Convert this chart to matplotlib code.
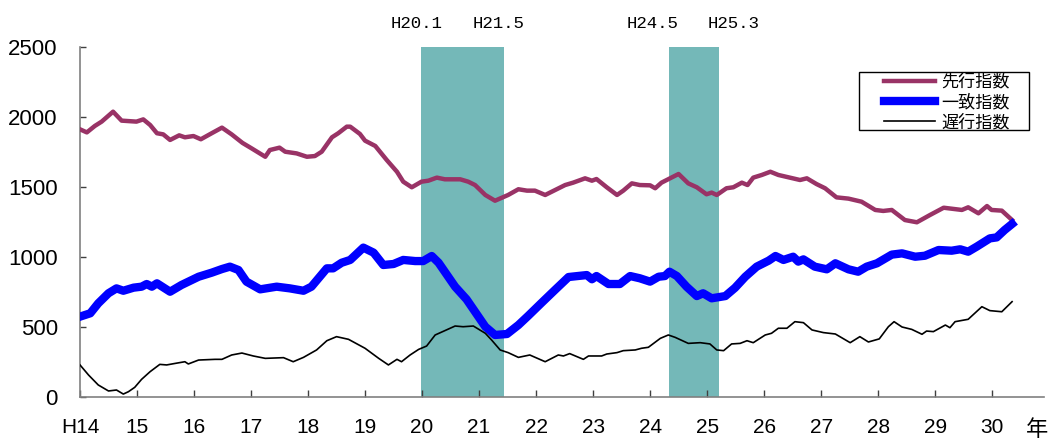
import matplotlib
matplotlib.use('Agg')
import matplotlib.pyplot as plt
from matplotlib.patches import Rectangle

# leading / coincident / lagging indices (x = fiscal year, H14 = 14)
lead_x = [14.0, 14.12, 14.26, 14.38, 14.58, 14.73, 14.99, 15.11, 15.23, 15.35, 15.46, 15.58, 15.74, 15.84, 15.99,
          16.12, 16.31, 16.49, 16.66, 16.85, 17.01, 17.25, 17.33, 17.5, 17.6, 17.8, 17.98, 18.12, 18.24, 18.42,
          18.53, 18.68, 18.74, 18.91, 19.0, 19.18, 19.38, 19.56, 19.67, 19.82, 19.99, 20.11, 20.26, 20.4, 20.67,
          20.81, 20.93, 21.11, 21.28, 21.51, 21.69, 21.84, 21.98, 22.16, 22.51, 22.65, 22.86, 22.98, 23.06, 23.24,
          23.42, 23.53, 23.68, 23.82, 24.0, 24.09, 24.2, 24.35, 24.5, 24.67, 24.82, 24.99, 25.08, 25.17, 25.34,
          25.46, 25.61, 25.71, 25.81, 25.96, 26.11, 26.25, 26.43, 26.63, 26.75, 26.92, 27.07, 27.27, 27.48, 27.71,
          27.95, 28.09, 28.24, 28.47, 28.68, 28.91, 29.15, 29.47, 29.58, 29.76, 29.91, 29.99, 30.17, 30.35]
lead_y = [1912, 1890, 1936, 1967, 2038, 1974, 1967, 1983, 1943, 1884, 1876, 1836, 1869, 1855, 1864,
          1841, 1884, 1924, 1876, 1815, 1776, 1716, 1764, 1781, 1752, 1740, 1716, 1721, 1752, 1855,
          1884, 1931, 1931, 1879, 1831, 1793, 1693, 1609, 1538, 1498, 1538, 1545, 1567, 1555, 1555,
          1538, 1514, 1443, 1402, 1443, 1484, 1474, 1474, 1443, 1514, 1531, 1562, 1545, 1557, 1498,
          1443, 1474, 1526, 1514, 1512, 1491, 1531, 1562, 1593, 1526, 1498, 1448, 1460, 1443, 1491,
          1498, 1531, 1514, 1567, 1586, 1609, 1586, 1569, 1550, 1562, 1521, 1491, 1426, 1417, 1395,
          1336, 1329, 1336, 1264, 1248, 1300, 1352, 1336, 1355, 1312, 1364, 1336, 1331, 1264]

coin_x = [14.0, 14.18, 14.32, 14.5, 14.64, 14.76, 14.94, 15.08, 15.17, 15.26, 15.35, 15.58, 15.78, 16.08, 16.31,
          16.49, 16.63, 16.78, 16.92, 17.16, 17.45, 17.68, 17.92, 18.06, 18.33, 18.44, 18.59, 18.74, 18.97, 19.15,
          19.32, 19.5, 19.67, 19.88, 20.02, 20.17, 20.29, 20.58, 20.78, 20.93, 21.11, 21.28, 21.49, 21.69, 21.86,
          22.1, 22.33, 22.57, 22.89, 22.98, 23.06, 23.27, 23.47, 23.65, 23.82, 24.0, 24.15, 24.26, 24.34, 24.47,
          24.64, 24.82, 24.93, 25.08, 25.32, 25.49, 25.67, 25.87, 26.08, 26.2, 26.34, 26.51, 26.6, 26.69, 26.89,
          27.1, 27.25, 27.48, 27.65, 27.8, 27.98, 28.24, 28.42, 28.65, 28.82, 29.06, 29.29, 29.44, 29.58, 29.73,
          29.96, 30.08, 30.22, 30.35]
coin_y = [574, 598, 669, 741, 776, 759, 781, 788, 807, 788, 812, 752, 800, 859, 888,
          914, 931, 907, 824, 769, 788, 776, 759, 788, 919, 919, 959, 979, 1067, 1031,
          943, 950, 979, 971, 971, 1007, 959, 788, 698, 609, 502, 443, 450, 514, 579,
          674, 764, 857, 871, 841, 864, 807, 807, 864, 848, 824, 859, 864, 895, 864,
          788, 721, 741, 705, 721, 780, 859, 931, 974, 1007, 979, 1002, 967, 983, 931,
          912, 955, 912, 895, 931, 955, 1017, 1026, 1002, 1009, 1050, 1045, 1055, 1038, 1074,
          1133, 1140, 1193, 1236]

lag_x = [14.0, 14.15, 14.32, 14.5, 14.64, 14.76, 14.85, 14.96, 15.08, 15.23, 15.4, 15.52, 15.67, 15.84, 15.9,
         16.08, 16.37, 16.49, 16.66, 16.84, 17.04, 17.25, 17.57, 17.74, 17.92, 18.15, 18.33, 18.5, 18.71, 19.0,
         19.24, 19.41, 19.56, 19.64, 19.79, 19.94, 20.08, 20.23, 20.4, 20.58, 20.72, 20.9, 21.11, 21.22, 21.37,
         21.51, 21.69, 21.89, 22.16, 22.39, 22.48, 22.59, 22.83, 22.92, 23.15, 23.24, 23.42, 23.53, 23.74, 23.85,
         23.97, 24.18, 24.32, 24.44, 24.67, 24.88, 25.05, 25.17, 25.29, 25.43, 25.58, 25.7, 25.81, 26.02, 26.13,
         26.25, 26.4, 26.54, 26.69, 26.84, 27.04, 27.25, 27.51, 27.68, 27.83, 28.02, 28.18, 28.28, 28.42, 28.59,
         28.77, 28.85, 28.97, 29.18, 29.26, 29.35, 29.58, 29.82, 29.96, 30.17, 30.35]
lag_y = [229, 157, 86, 43, 50, 21, 38, 69, 126, 181, 233, 229, 240, 252, 236,
         264, 269, 269, 300, 314, 293, 276, 281, 252, 283, 336, 402, 431, 412, 348,
         276, 229, 269, 252, 300, 340, 364, 443, 474, 507, 502, 507, 455, 407, 336,
         317, 283, 300, 252, 300, 293, 310, 269, 293, 293, 307, 317, 331, 336, 348,
         355, 419, 443, 426, 383, 388, 379, 336, 331, 379, 383, 402, 388, 443, 455,
         491, 491, 538, 531, 479, 460, 450, 388, 431, 393, 415, 502, 538, 500, 483,
         448, 471, 467, 514, 495, 538, 555, 645, 617, 609, 681]

# recession periods (start, end) and their labels
recessions = [(19.98, 21.44), (24.33, 25.21)]
period_labels = ['H20.1', 'H21.5', 'H24.5', 'H25.3']
period_label_x = [19.91, 21.35, 24.04, 25.47]

year_ticks = list(range(14, 31))
year_labels = ['H14'] + [str(y) for y in year_ticks[1:]]
value_ticks = [0, 500, 1000, 1500, 2000, 2500]

fig = plt.figure(figsize=(10.54, 4.44), dpi=100)
ax = fig.add_axes([80 / 1054, 47 / 444, 964 / 1054, 350 / 444])

for start, end in recessions:
    ax.axvspan(start, end, color='#74B8B8', lw=0, zorder=0)

ax.plot(lead_x, lead_y, color='#993366', lw=3.2, label='先行指数', zorder=3)
ax.plot(coin_x, coin_y, color='#0000FF', lw=6, label='一致指数', zorder=3)
ax.plot(lag_x, lag_y, color='black', lw=1.2, label='遅行指数', zorder=3)

for txt, xp in zip(period_labels, period_label_x):
    ax.text(xp, 1.066, txt, transform=ax.get_xaxis_transform(), ha='center', va='center',
            fontsize=12.5, family='Liberation Mono', clip_on=False)

ax.text(30.79, -0.094, '年', transform=ax.get_xaxis_transform(), ha='center', va='center',
        fontsize=16, family='Noto Sans CJK JP', clip_on=False)

ax.set_xlim(14, 30.91)
ax.set_ylim(0, 2500)
ax.set_xticks(year_ticks)
ax.set_xticklabels(year_labels, family='Liberation Sans', fontsize=15)
ax.set_yticks(value_ticks)
ax.set_yticklabels([str(v) for v in value_ticks], family='Liberation Sans', fontsize=16)

for side in ['top', 'right']:
    ax.spines[side].set_visible(False)
for side in ['left', 'bottom']:
    ax.spines[side].set_color('#808080')
    ax.spines[side].set_linewidth(1.2)
ax.tick_params(axis='x', direction='in', length=5, width=1, color='#404040', pad=15)
ax.tick_params(axis='y', direction='in', length=4.5, width=1, color='#404040', pad=16)

# legend box drawn separately: wide side margins, tight top/bottom
ax.add_patch(Rectangle((0.808, 0.763), 0.1763, 0.1657, transform=ax.transAxes,
                       facecolor='white', edgecolor='black', lw=1.0, zorder=4, clip_on=False))
leg = ax.legend(loc='center left', bbox_to_anchor=(0.834, 0.843), borderaxespad=0,
                prop={'family': 'Noto Sans CJK JP', 'size': 12.3}, frameon=False,
                handlelength=3.0, labelspacing=0.12, borderpad=0, handletextpad=0.35)
leg.set_zorder(5)

plt.savefig('out.png', dpi=100)
